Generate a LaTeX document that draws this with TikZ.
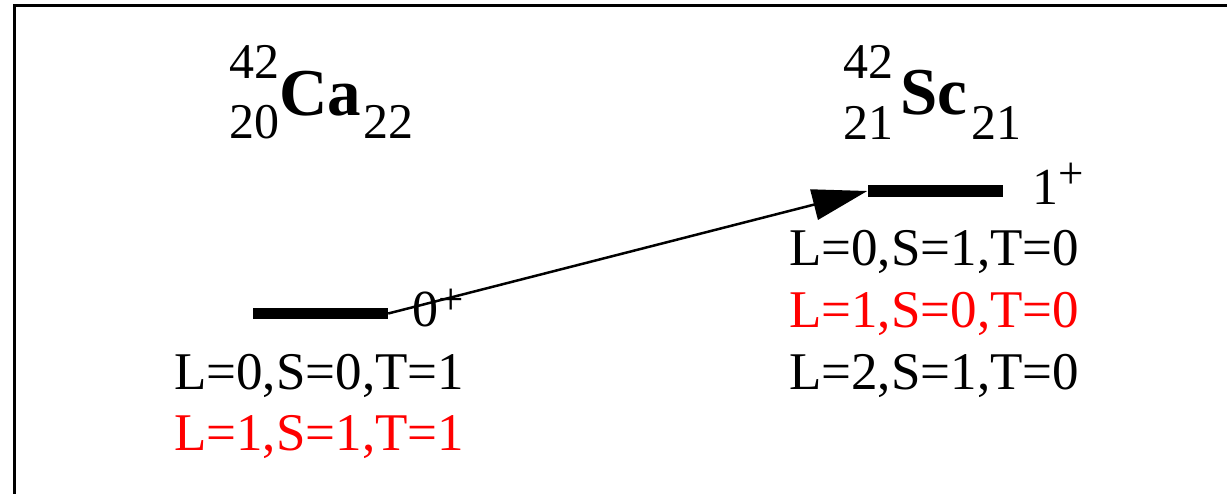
\documentclass[tikz,border=0pt]{standalone}
\usepackage{fontspec}
\setmainfont{Liberation Serif}
\usetikzlibrary{arrows.meta}
\begin{document}
\begin{tikzpicture}[x=1pt,y=-1pt,
  lbl/.style={anchor=base west,inner sep=0pt,font=\fontsize{53}{60}\selectfont},
  scr/.style={anchor=base west,inner sep=0pt,font=\fontsize{50}{56}\selectfont},
  sym/.style={anchor=base west,inner sep=0pt,font=\fontsize{67}{72}\selectfont\bfseries},
  level/.style={fill=black,inner sep=0pt,minimum width=135pt,minimum height=11.5pt},
  spin/.style={anchor=base west,inner sep=0pt,font=\fontsize{52}{60}\selectfont},
  trans/.style={line width=2.5pt,-{Triangle[length=55pt,width=31pt]}},
  frame/.style={line width=3pt}
]
\useasboundingbox (0,0) rectangle (1227,494);
\draw[frame] (14,494) -- (14,6) -- (1227,6);

% Ca-42
\node[scr] (caA) at (229,79) {42};
\node[scr] (caZ) at (229,139) {20};
\node[sym] (caS) at (279,116) {Ca};
\node[scr] (caN) at (363,139) {22};
% Sc-42
\node[scr] (scA) at (843,79) {42};
\node[scr] (scZ) at (843,140) {21};
\node[sym] (scS) at (900,115) {Sc};
\node[scr] (scN) at (971,140) {21};

% levels
\node[level] (calev) at (320.5,313.5) {};
\node[level] (sclev) at (935,191) {};
\node[spin] (caJ) at (412,327) {0\raisebox{13pt}{\fontsize{45}{45}\selectfont +}};
\node[spin] (scJ) at (1032,205) {1\raisebox{16pt}{\fontsize{45}{45}\selectfont +}};

\draw[trans] (calev.east) -- (sclev.west);

% quantum numbers
\node[lbl] (ca1) at (174,389) {L=0,S=0,T=1};
\node[lbl,text=red] (ca2) at (174,450) {L=1,S=1,T=1};
\node[lbl] (sc1) at (789,266) {L=0,S=1,T=0};
\node[lbl,text=red] (sc2) at (789,328) {L=1,S=0,T=0};
\node[lbl] (sc3) at (789,390) {L=2,S=1,T=0};
\end{tikzpicture}
\end{document}
